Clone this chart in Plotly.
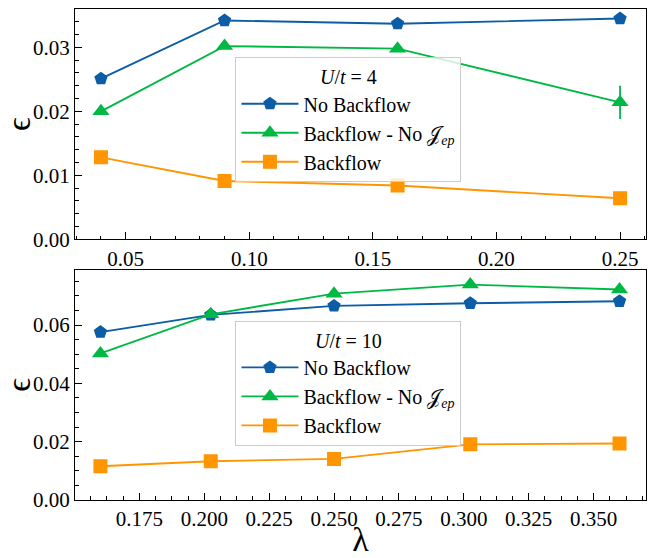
import plotly.graph_objects as go

# ---------------- data ----------------
lam_top = [0.04, 0.09, 0.16, 0.25]
nb_top = [0.0251, 0.0342, 0.0337, 0.0345]
bfnj_top = [0.0200, 0.0302, 0.0298, 0.0214]
bf_top = [0.0128, 0.0091, 0.0084, 0.0064]
nb_top_err = [0.0, 0.0, 0.0, 0.0]
bfnj_top_err = [0.0, 0.0, 0.0, 0.0026]
bf_top_err = [0.0, 0.0, 0.0, 0.0]

lam_bot = [0.16, 0.2025, 0.25, 0.3025, 0.36]
nb_bot = [0.0576, 0.0635, 0.0666, 0.0675, 0.0682]
bfnj_bot = [0.0503, 0.0637, 0.0708, 0.0739, 0.0722]
bf_bot = [0.0116, 0.0133, 0.0141, 0.0191, 0.0194]
nb_bot_err = [0.0, 0.0, 0.0, 0.0, 0.0]
bfnj_bot_err = [0.0, 0.0, 0.0, 0.0, 0.0]
bf_bot_err = [0.0, 0.0, 0.0, 0.0, 0.0]

names = ["No Backflow", "Backflow - No 𝒥<sub><i>ep</i></sub>", "Backflow"]
colors = ["#0C5DA5", "#00B945", "#FF9500"]
symbols = ["pentagon", "triangle-up", "square"]
sizes = [14, 15, 14]

FONT = "Liberation Serif, Times New Roman, serif"

fig = go.Figure()

def add(x, y, err, i, xa, ya, leg):
    fig.add_trace(go.Scatter(
        x=x, y=y, mode="lines+markers", name=names[i],
        xaxis=xa, yaxis=ya, legend=leg,
        line=dict(color=colors[i], width=1.9),
        marker=dict(symbol=symbols[i], size=sizes[i], color=colors[i]),
        error_y=dict(type="data", array=err, visible=True, color=colors[i], thickness=1.8, width=0),
    ))

add(lam_top, nb_top, nb_top_err, 0, "x", "y", "legend")
add(lam_top, bfnj_top, bfnj_top_err, 1, "x", "y", "legend")
add(lam_top, bf_top, bf_top_err, 2, "x", "y", "legend")
add(lam_bot, nb_bot, nb_bot_err, 0, "x2", "y2", "legend2")
add(lam_bot, bfnj_bot, bfnj_bot_err, 1, "x2", "y2", "legend2")
add(lam_bot, bf_bot, bf_bot_err, 2, "x2", "y2", "legend2")

def ax(**kw):
    d = dict(showline=True, linecolor="black", linewidth=1.2, mirror=True,
             ticks="inside", ticklen=7, tickwidth=1, tickcolor="black",
             showgrid=False, zeroline=False,
             tickfont=dict(family=FONT, size=21, color="black"))
    d.update(kw)
    return d

def minor(dt):
    return dict(dtick=dt, ticks="inside", ticklen=3.5, tickcolor="black", showgrid=False, tick0=0)

def mirror_ax(**kw):
    d = dict(showline=False, ticks="inside", ticklen=7, tickwidth=1, tickcolor="black",
             showgrid=False, zeroline=False, showticklabels=False)
    d.update(kw)
    return d

legfont = dict(family=FONT, size=20, color="black")

def legend(title, y):
    return dict(x=0.281, y=y, xref="paper", yref="paper", xanchor="left", yanchor="top",
                bgcolor="rgba(255,255,255,0.8)", bordercolor="#cccccc", borderwidth=1,
                font=legfont, itemwidth=57,
                title=dict(text=title, side="top center", font=legfont))

top_xr = [0.0295, 0.2605]
top_yr = [0, 0.036]
bot_xr = [0.1502, 0.3702]
bot_yr = [0, 0.079]

fig.update_layout(
    width=648, height=558,
    margin=dict(l=75, r=1, t=8, b=50),
    plot_bgcolor="white", paper_bgcolor="white",
    font=dict(family=FONT, color="black"),
    xaxis=ax(domain=[0, 1], anchor="y", range=top_xr, tick0=0, dtick=0.05,
             tickformat=".2f", minor=minor(0.01)),
    yaxis=ax(domain=[0.53, 0.998], anchor="x", range=top_yr, tick0=0, dtick=0.01,
             tickformat=".2f", minor=minor(0.002),
             title=dict(text="ϵ", font=dict(family=FONT, size=34), standoff=6)),
    xaxis2=ax(domain=[0, 1], anchor="y2", range=bot_xr, tick0=0, dtick=0.025,
              tickformat=".3f", minor=minor(0.00625),
              title=dict(text="λ", font=dict(family=FONT, size=34), standoff=2)),
    yaxis2=ax(domain=[0, 0.468], anchor="x2", range=bot_yr, tick0=0, dtick=0.02,
              tickformat=".2f", minor=minor(0.005),
              title=dict(text="ϵ", font=dict(family=FONT, size=34), standoff=6)),
    # mirrored tick marks on top / right spines
    xaxis3=mirror_ax(overlaying="x", anchor="y", side="top", range=top_xr, tick0=0, dtick=0.05,
                     minor=minor(0.01)),
    yaxis3=mirror_ax(overlaying="y", anchor="x", side="right", range=top_yr, tick0=0, dtick=0.01,
                     minor=minor(0.002)),
    xaxis4=mirror_ax(overlaying="x2", anchor="y2", side="top", range=bot_xr, tick0=0, dtick=0.025,
                     minor=minor(0.00625)),
    yaxis4=mirror_ax(overlaying="y2", anchor="x2", side="right", range=bot_yr, tick0=0, dtick=0.02,
                     minor=minor(0.005)),
    legend=legend("<i>U</i>/<i>t</i> = 4", 0.9),
    legend2=legend("<i>U</i>/<i>t</i> = 10", 0.364),
)

fig.write_html("out.html")
